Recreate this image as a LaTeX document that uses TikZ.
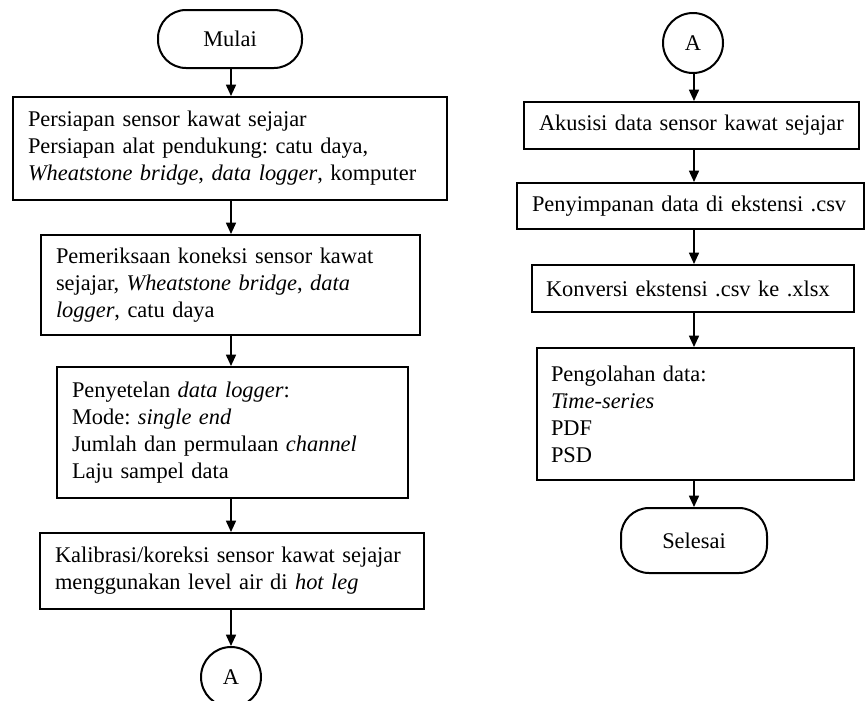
\documentclass[tikz,border=0pt]{standalone}
\usepackage{fontspec}
\setmainfont{Liberation Serif}[WordSpace=0.7]
\usetikzlibrary{arrows.meta}
\newcommand{\myline}[1]{\mbox{#1}}
\tikzset{
  txt/.style={font=\fontsize{16.8}{20.25}\selectfont\frenchspacing},
  flow/.style={draw, line width=1.5pt, rectangle, align=left, inner xsep=11.25pt, inner ysep=0pt, txt},
  term/.style={draw, line width=1.5pt, rectangle, rounded corners=21pt, align=center, inner sep=0pt, txt},
  conn/.style={draw, line width=1.5pt, circle, minimum size=45pt, inner sep=0pt, txt},
  arr/.style={line width=1.2pt, -{Triangle[length=8.5pt, width=7.5pt]}}
}
\begin{document}
\begin{tikzpicture}[x=0.75pt, y=-0.75pt]
\useasboundingbox (0,0) rectangle (866,700);
\clip (0,0) rectangle (866,700);
% left column
\node[term, minimum width=108pt, minimum height=43.5pt] (mulai) at (230,39) {Mulai};
\node[flow, text width=303pt, minimum height=77.25pt] (b1) at (230,148.5)
  {\myline{Persiapan sensor kawat sejajar}\\\myline{Persiapan alat pendukung: catu daya,}\\\myline{\textit{Wheatstone bridge}, \textit{data logger}, komputer}};
\node[flow, text width=261.75pt, minimum height=75pt] (b2) at (230.5,285)
  {\myline{Pemeriksaan koneksi sensor kawat}\\\myline{sejajar, \textit{Wheatstone bridge}, \textit{data}}\\\myline{\textit{logger}, catu daya}};
\node[flow, text width=240.75pt, minimum height=98.25pt] (b3) at (232.5,432.5)
  {\myline{Penyetelan \textit{data logger}:}\\\myline{Mode: \textit{single end}}\\\myline{Jumlah dan permulaan \textit{channel}}\\\myline{Laju sampel data}};
\node[flow, text width=265.5pt, minimum height=57pt] (b4) at (232,571)
  {\myline{Kalibrasi/koreksi sensor kawat sejajar}\\\myline{menggunakan level air di \textit{hot leg}}};
\node[conn] (a1) at (231,677) {A};
\coordinate (lx) at (231,0);
% right column
\node[conn] (a2) at (693,43) {A};
\node[flow, text width=228.75pt, minimum height=35.25pt] (c1) at (691.5,125.5)
  {\myline{Akusisi data sensor kawat sejajar}};
\node[flow, text width=237.75pt, minimum height=34.5pt] (c2) at (690.5,206)
  {\myline{Penyimpanan data di ekstensi .csv}};
\node[flow, inner xsep=10.5pt, text width=220.5pt, minimum height=35.25pt] (c3) at (693,288.5)
  {\myline{Konversi ekstensi .csv ke .xlsx}};
\node[flow, inner xsep=10.5pt, text width=216.75pt, minimum height=99pt] (c4) at (695.5,414)
  {\myline{Pengolahan data:}\\\myline{\textit{Time-series}}\\\myline{PDF}\\\myline{PSD}};
\node[term, minimum width=109.5pt, minimum height=48.75pt] (selesai) at (694,540.5) {Selesai};
\coordinate (rx) at (694,0);
% connectors
\draw[arr] (mulai.south -| lx) -- (b1.north -| lx);
\draw[arr] (b1.south -| lx) -- (b2.north -| lx);
\draw[arr] (b2.south -| lx) -- (b3.north -| lx);
\draw[arr] (b3.south -| lx) -- (b4.north -| lx);
\draw[arr] (b4.south -| lx) -- (a1.north -| lx);
\draw[arr] (a2.south -| rx) -- (c1.north -| rx);
\draw[arr] (c1.south -| rx) -- (c2.north -| rx);
\draw[arr] (c2.south -| rx) -- (c3.north -| rx);
\draw[arr] (c3.south -| rx) -- (c4.north -| rx);
\draw[arr] (c4.south -| rx) -- (selesai.north -| rx);
\end{tikzpicture}
\end{document}
